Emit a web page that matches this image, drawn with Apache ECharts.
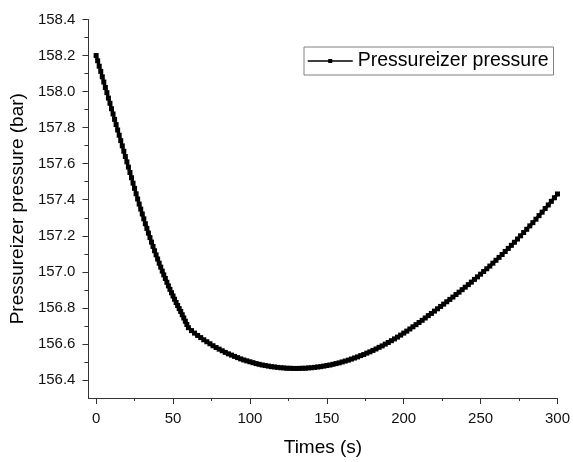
<!DOCTYPE html>
<html>
<head>
<meta charset="utf-8">
<script src="https://cdn.jsdelivr.net/npm/echarts@6/dist/echarts.min.js"></script>
<style>
html,body{margin:0;padding:0;background:#fff;}
#chart{width:573px;height:462px;}
</style>
</head>
<body>
<div id="chart"></div>
<script>
const seriesName = 'Pressureizer pressure';
const xTitle = 'Times (s)';
const yTitle = 'Pressureizer pressure (bar)';
const xMajorTicks = [0, 50, 100, 150, 200, 250, 300];
const xMinorTicks = [25, 75, 125, 175, 225, 275];
const yMajorTicks = [156.4, 156.6, 156.8, 157.0, 157.2, 157.4, 157.6, 157.8, 158.0, 158.2, 158.4];
const yMinorTicks = [156.5, 156.7, 156.9, 157.1, 157.3, 157.5, 157.7, 157.9, 158.1, 158.3];

const times = [
  0,1,2,3,4,5,6,7,8,9,10,11,12,13,14,15,16,17,18,19,20,21,22,23,24,25,26,27,28,29,
  30,31,32,33,34,35,36,37,38,39,40,41,42,43,44,45,46,47,48,49,50,51,52,53,54,55,56,57,58,59,60,
  62,64,66,68,70,72,74,76,78,80,82,84,86,88,90,92,94,96,98,100,
  102,104,106,108,110,112,114,116,118,120,122,124,126,128,130,132,134,136,138,140,
  142,144,146,148,150,152,154,156,158,160,162,164,166,168,170,172,174,176,178,180,
  182,184,186,188,190,192,194,196,198,200,202,204,206,208,210,212,214,216,218,220,
  222,224,226,228,230,232,234,236,238,240,242,244,246,248,250,252,254,256,258,260,
  262,264,266,268,270,272,274,276,278,280,282,284,286,288,290,292,294,296,298,300
];
const pressure = [
  158.200,158.171,158.141,158.112,158.082,158.053,158.023,157.994,157.964,157.935,
  157.905,157.876,157.846,157.817,157.787,157.758,157.728,157.699,157.669,157.640,
  157.610,157.581,157.551,157.522,157.492,157.463,157.433,157.404,157.376,157.348,
  157.321,157.294,157.267,157.241,157.215,157.190,157.165,157.141,157.117,157.094,
  157.071,157.048,157.026,157.004,156.983,156.963,156.942,156.922,156.903,156.884,
  156.866,156.848,156.830,156.813,156.796,156.780,156.762,156.744,156.726,156.708,156.690,
  156.674,156.660,156.647,156.635,156.623,156.612,156.601,156.590,156.580,156.571,
  156.562,156.553,156.545,156.538,156.531,156.524,156.517,156.511,156.506,156.501,
  156.496,156.491,156.487,156.483,156.480,156.477,156.474,156.472,156.470,156.468,
  156.467,156.465,156.465,156.464,156.464,156.464,156.465,156.465,156.467,156.468,
  156.470,156.472,156.474,156.477,156.480,156.483,156.487,156.491,156.495,156.500,
  156.505,156.510,156.516,156.522,156.528,156.535,156.541,156.549,156.556,156.564,
  156.572,156.581,156.589,156.599,156.608,156.618,156.628,156.638,156.649,156.660,
  156.671,156.683,156.695,156.707,156.719,156.731,156.744,156.757,156.769,156.782,
  156.795,156.808,156.821,156.834,156.847,156.860,156.874,156.887,156.901,156.915,
  156.929,156.943,156.958,156.972,156.987,157.002,157.017,157.032,157.048,157.064,
  157.080,157.096,157.113,157.130,157.147,157.164,157.182,157.200,157.218,157.236,
  157.255,157.273,157.292,157.312,157.331,157.351,157.371,157.391,157.411,157.432
];

const FONT = '"Liberation Sans", Arial, sans-serif';
const chart = echarts.init(document.getElementById('chart'), null, {renderer: 'canvas'});
const xMin = -5, xMax = 300, yMin = 156.3, yMax = 158.4;

chart.setOption({
  animation: false,
  backgroundColor: '#ffffff',
  grid: {left: 85.5, right: 14, top: 19.5, bottom: 64, containLabel: false},
  legend: {
    show: true,
    left: 304, top: 47,
    orient: 'horizontal',
    data: [seriesName],
    itemWidth: 45, itemHeight: 5, itemGap: 6,
    padding: [4, 5, 4, 3],
    borderColor: '#808080', borderWidth: 1,
    textStyle: {fontFamily: FONT, fontSize: 19.5, color: '#000', lineHeight: 20},
    lineStyle: {width: 1.5, color: '#000'},
    itemStyle: {color: '#000'}
  },
  xAxis: [
    {
      type: 'value', min: xMin, max: xMax,
      name: xTitle, nameLocation: 'middle', nameGap: 40,
      nameTextStyle: {fontFamily: FONT, fontSize: 19, color: '#000'},
      axisLine: {show: true, onZero: false, lineStyle: {color: '#333', width: 1}},
      axisTick: {show: true, inside: false, length: 6, customValues: xMajorTicks, lineStyle: {color: '#333', width: 1}},
      axisLabel: {show: true, customValues: xMajorTicks, margin: 13, fontFamily: FONT, fontSize: 15, color: '#111'},
      splitLine: {show: false}
    },
    {
      type: 'value', min: xMin, max: xMax, position: 'bottom',
      axisLine: {show: false, onZero: false},
      axisTick: {show: true, inside: false, length: 3, customValues: xMinorTicks, lineStyle: {color: '#333', width: 1}},
      axisLabel: {show: false},
      splitLine: {show: false}
    }
  ],
  yAxis: [
    {
      type: 'value', min: yMin, max: yMax,
      name: yTitle, nameLocation: 'middle', nameGap: 56, nameRotate: 90,
      nameTextStyle: {fontFamily: FONT, fontSize: 19, color: '#000'},
      axisLine: {show: true, onZero: false, lineStyle: {color: '#333', width: 1}},
      axisTick: {show: true, inside: false, length: 6, customValues: yMajorTicks, lineStyle: {color: '#333', width: 1}},
      axisLabel: {show: true, customValues: yMajorTicks, margin: 13, fontFamily: FONT, fontSize: 15, color: '#111',
        formatter: v => Number(v).toFixed(1)},
      splitLine: {show: false}
    },
    {
      type: 'value', min: yMin, max: yMax, position: 'left',
      axisLine: {show: false, onZero: false},
      axisTick: {show: true, inside: false, length: 4, customValues: yMinorTicks, lineStyle: {color: '#333', width: 1}},
      axisLabel: {show: false},
      splitLine: {show: false}
    }
  ],
  series: [{
    name: seriesName,
    type: 'line',
    xAxisIndex: 0, yAxisIndex: 0,
    data: times.map((t, i) => [t, pressure[i]]),
    symbol: 'rect', symbolSize: 5,
    lineStyle: {color: '#000', width: 3},
    itemStyle: {color: '#000'},
    clip: false
  }]
});
</script>
</body>
</html>
